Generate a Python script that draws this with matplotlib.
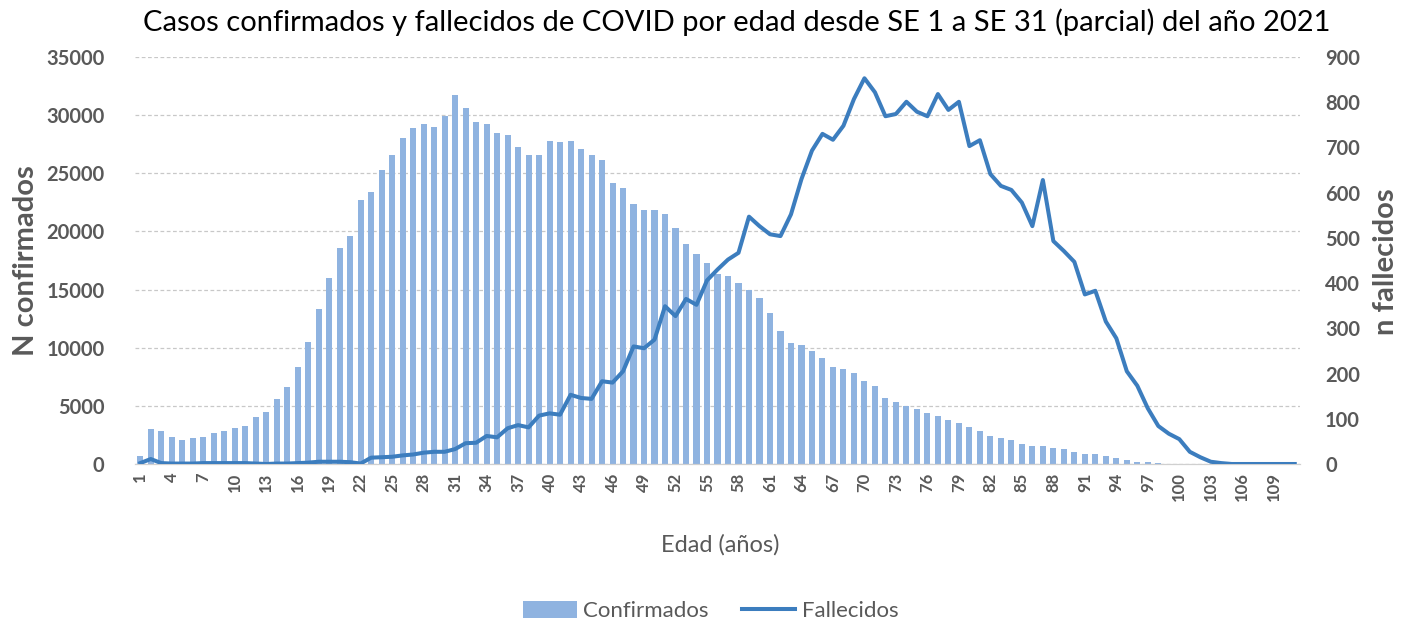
import matplotlib
matplotlib.use("Agg")
import matplotlib.pyplot as plt
from matplotlib.patches import Patch
from matplotlib.lines import Line2D
import numpy as np

plt.rcParams['font.family'] = ['Lato', 'DejaVu Sans']

ages = list(range(1, 112))
confirmados = [
    700, 3000, 2800, 2300, 2100, 2250, 2300, 2650, 2800, 3100,
    3300, 4000, 4500, 5550, 6600, 8300, 10500, 13300, 16000, 18600,
    19600, 22700, 23400, 25300, 26600, 28000, 28900, 29200, 29000, 29900,
    31700, 30600, 29400, 29200, 28500, 28300, 27300, 26600, 26600, 27800,
    27700, 27800, 27100, 26600, 26100, 24200, 23700, 22400, 21800, 21800,
    21500, 20300, 18900, 18100, 17300, 16300, 16200, 15550, 15000, 14300,
    12950, 11400, 10400, 10200, 9700, 9150, 8300, 8150, 7800, 7100,
    6750, 5700, 5350, 5000, 4700, 4350, 4150, 3800, 3500, 3150,
    2800, 2450, 2270, 2100, 1750, 1580, 1580, 1400, 1250, 1050,
    900, 880, 720, 550, 370, 200, 200, 50, 30, 20,
    10, 5, 5, 2, 2, 1, 1, 0, 0, 0, 0,
]
fallecidos = [
    2, 11, 2, 1, 1, 1, 2, 2, 2, 2,
    2, 1, 0, 1, 1, 2, 3, 5, 5, 5,
    4, 1, 14, 15, 16, 19, 21, 25, 27, 27,
    33, 46, 47, 62, 59, 79, 86, 81, 107, 112,
    109, 153, 146, 144, 183, 180, 205, 260, 256, 275,
    349, 327, 365, 352, 406, 430, 452, 467, 547, 526,
    508, 504, 552, 630, 693, 730, 717, 748, 807, 853,
    822, 769, 774, 801, 779, 769, 818, 783, 801, 703,
    716, 641, 615, 606, 578, 526, 628, 493, 471, 447,
    375, 383, 315, 278, 205, 173, 123, 84, 67, 55,
    27, 15, 5, 2, 0, 0, 0, 0, 0, 0, 0,
]
left_ticks = [0, 5000, 10000, 15000, 20000, 25000, 30000, 35000]
right_ticks = [0, 100, 200, 300, 400, 500, 600, 700, 800, 900]
xtick_ages = list(range(1, 112, 3))

title = "Casos confirmados y fallecidos de COVID por edad desde SE 1 a SE 31 (parcial) del año 2021"

W, H = 1402, 621
fig = plt.figure(figsize=(W / 100, H / 100), dpi=100)
L, R, B, T = 135, 1300, 464, 57
ax = fig.add_axes([L / W, 1 - B / H, (R - L) / W, (B - T) / H])
ax2 = ax.twinx()

bar_color = "#8FB3E0"
line_color = "#3C7DBE"
grey = "#595959"

ax.bar(ages, confirmados, width=0.58, color=bar_color, zorder=2)
ax.set_xlim(0.5, len(ages) + 0.5)
ax.set_ylim(0, 35000)
ax.set_yticks(left_ticks)
ax.yaxis.grid(True, color="#C8C8C8", linestyle=(0, (3, 2)), linewidth=0.9, zorder=0)
ax.set_axisbelow(True)

ax2.plot(ages, fallecidos, color=line_color, linewidth=2.9, solid_joinstyle='round', zorder=3)
ax2.set_ylim(0, 900)
ax2.set_yticks(right_ticks)

ax.set_xticks(xtick_ages)
ax.set_xticklabels([str(a) for a in xtick_ages], rotation=90, fontsize=12, fontweight='bold', color=grey)

for a in (ax, ax2):
    for s in ('top', 'left', 'right'):
        a.spines[s].set_visible(False)
    a.spines['bottom'].set_color("#D0D0D0")
    a.tick_params(axis='y', length=0, labelsize=14.5, labelcolor=grey)
    for lab in a.get_yticklabels():
        lab.set_fontweight('bold')
ax.tick_params(axis='x', length=0, pad=6)
ax.tick_params(axis='y', pad=22)
ax2.tick_params(axis='y', pad=18)

fig.text(737 / W, 1 - 22 / H, title, ha='center', va='center', fontsize=21, color='black')
fig.text(26 / W, 1 - 261 / H, "N confirmados", rotation=90, ha='center', va='center',
         fontsize=21, fontweight='bold', color=grey)
fig.text(1386 / W, 1 - 262 / H, "n fallecidos", rotation=90, ha='center', va='center',
         fontsize=21, fontweight='bold', color=grey)
fig.text(720 / W, 1 - 545 / H, "Edad (años)", ha='center', va='center', fontsize=17, color=grey)

handles = [Patch(facecolor=bar_color, edgecolor='none'),
           Line2D([0], [0], color=line_color, linewidth=2.9)]
fig.legend(handles, ["Confirmados", "Fallecidos"], loc='center', ncol=2,
           bbox_to_anchor=(711 / W, 1 - 611 / H), frameon=False, fontsize=16,
           labelcolor=grey, handlelength=2.4, handleheight=0.8, handletextpad=0.3,
           columnspacing=1.5)

fig.savefig("out.png", dpi=100)
